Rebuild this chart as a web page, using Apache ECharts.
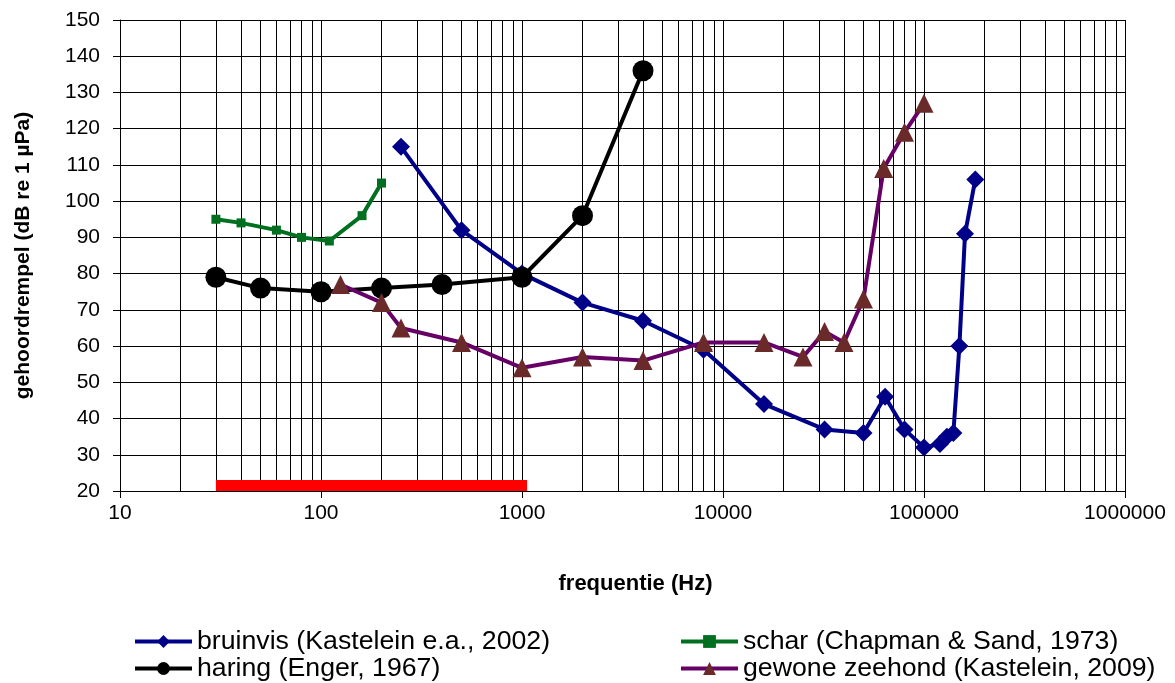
<!DOCTYPE html>
<html>
<head>
<meta charset="utf-8">
<script src="https://cdn.jsdelivr.net/npm/echarts@6/dist/echarts.min.js"></script>
<style>
  html, body { margin: 0; padding: 0; background: #fff; }
  #chart { width: 1175px; height: 683px; }
</style>
</head>
<body>
<div id="chart"></div>
<script>
// frequenties (Hz) en drempels (dB re 1 µPa)
var bruinvisFreq = [250, 500, 1000, 2000, 4000, 8000, 16000, 32000, 50000, 64000, 80000, 100000, 120000, 130000, 140000, 150000, 160000, 180000];
var bruinvisDb   = [115, 92, 80, 72, 67, 59, 44, 37, 36, 46, 37, 32, 33, 35, 36, 60, 91, 106];

var scharFreq = [30, 40, 60, 80, 110, 160, 200];
var scharDb   = [95, 94, 92, 90, 89, 96, 105];

var haringFreq = [30, 50, 100, 200, 400, 1000, 2000, 4000];
var haringDb   = [79, 76, 75, 76, 77, 79, 96, 136];

var zeehondFreq = [125, 200, 250, 500, 1000, 2000, 4000, 8000, 16000, 25000, 32000, 40000, 50000, 63000, 80000, 100000];
var zeehondDb   = [77, 72, 65, 61, 54, 57, 56, 61, 61, 57, 64, 61, 73, 109, 119, 127];

// rode balk onderaan
var balkFreq = [30, 1060];
var balkDb   = [21.5, 21.5];

var xTicks = [10, 100, 1000, 10000, 100000, 1000000];

function pairs(xs, ys) {
  return xs.map(function (x, i) { return [x, ys[i]]; });
}

// tussenliggende verticale rasterlijnen (2..9 per decade)
var minorLines = [];
for (var d = 0; d < xTicks.length - 1; d++) {
  for (var k = 2; k <= 9; k++) {
    minorLines.push({ xAxis: xTicks[d] * k });
  }
}

var chart = echarts.init(document.getElementById("chart"));
var font = "Liberation Sans, Arial, sans-serif";

var legendBase = {
  orient: "vertical",
  top: 628,
  height: 60,
  padding: 0,
  itemWidth: 57,
  itemHeight: 16,
  itemGap: 0,
  lineStyle: { width: 4 },
  textStyle: { fontSize: 26.7, color: "#000", fontFamily: font }
};

var option = {
  animation: false,
  textStyle: { fontFamily: font },
  grid: { left: 120, right: 50, top: 20, bottom: 192 },
  legend: [
    Object.assign({}, legendBase, {
      left: 133,
      data: ["bruinvis (Kastelein e.a., 2002)", "haring (Enger, 1967)"]
    }),
    Object.assign({}, legendBase, {
      left: 679,
      data: ["schar (Chapman & Sand, 1973)", "gewone zeehond (Kastelein, 2009)"]
    })
  ],
  xAxis: {
    type: "log",
    logBase: 10,
    min: 10,
    max: 1000000,
    name: "frequentie (Hz)",
    nameLocation: "middle",
    nameGap: 82,
    nameTextStyle: { fontSize: 22, fontWeight: "bold", color: "#000", padding: [0, 0, 0, 26] },
    axisLine: { lineStyle: { color: "#000", width: 1 } },
    axisTick: { show: true, length: 7, lineStyle: { color: "#000" } },
    axisLabel: {
      fontSize: 21,
      color: "#000",
      margin: 12,
      formatter: function (v) { return String(Math.round(v)); }
    },
    splitLine: { show: true, lineStyle: { color: "#000", width: 1 } }
  },
  yAxis: {
    type: "value",
    min: 20,
    max: 150,
    interval: 10,
    name: "gehoordrempel (dB re 1 µPa)",
    nameLocation: "middle",
    nameGap: 86,
    nameRotate: 90,
    nameTextStyle: { fontSize: 21, fontWeight: "bold", color: "#000" },
    axisLine: { show: true, lineStyle: { color: "#000", width: 1 } },
    axisTick: { show: true, length: 7, lineStyle: { color: "#000" } },
    axisLabel: { fontSize: 21, color: "#000", margin: 20 },
    splitLine: { show: true, lineStyle: { color: "#000", width: 1 } }
  },
  series: [
    {
      name: "raster",
      type: "line",
      data: [],
      silent: true,
      z: 1,
      markLine: {
        z: 1,
        silent: true,
        symbol: ["none", "none"],
        label: { show: false },
        lineStyle: { color: "#000", width: 1, type: "solid" },
        emphasis: { disabled: true },
        data: minorLines
      }
    },
    {
      name: "balk",
      type: "line",
      data: pairs(balkFreq, balkDb),
      showSymbol: false,
      silent: true,
      z: 3,
      lineStyle: { color: "#ff0000", width: 11 }
    },
    {
      name: "bruinvis (Kastelein e.a., 2002)",
      type: "line",
      data: pairs(bruinvisFreq, bruinvisDb),
      symbol: "diamond",
      symbolSize: 18,
      z: 4,
      lineStyle: { color: "#000088", width: 4 },
      itemStyle: { color: "#000088" }
    },
    {
      name: "schar (Chapman & Sand, 1973)",
      type: "line",
      data: pairs(scharFreq, scharDb),
      symbol: "rect",
      symbolSize: 9,
      z: 4,
      lineStyle: { color: "#007020", width: 4 },
      itemStyle: { color: "#007020" }
    },
    {
      name: "haring (Enger, 1967)",
      type: "line",
      data: pairs(haringFreq, haringDb),
      symbol: "circle",
      symbolSize: 21,
      z: 5,
      lineStyle: { color: "#000", width: 4 },
      itemStyle: { color: "#000" }
    },
    {
      name: "gewone zeehond (Kastelein, 2009)",
      type: "line",
      data: pairs(zeehondFreq, zeehondDb),
      symbol: "triangle",
      symbolSize: 19,
      z: 6,
      lineStyle: { color: "#660066", width: 4 },
      itemStyle: { color: "#6b2a2a" }
    }
  ]
};

chart.setOption(option);
</script>
</body>
</html>
